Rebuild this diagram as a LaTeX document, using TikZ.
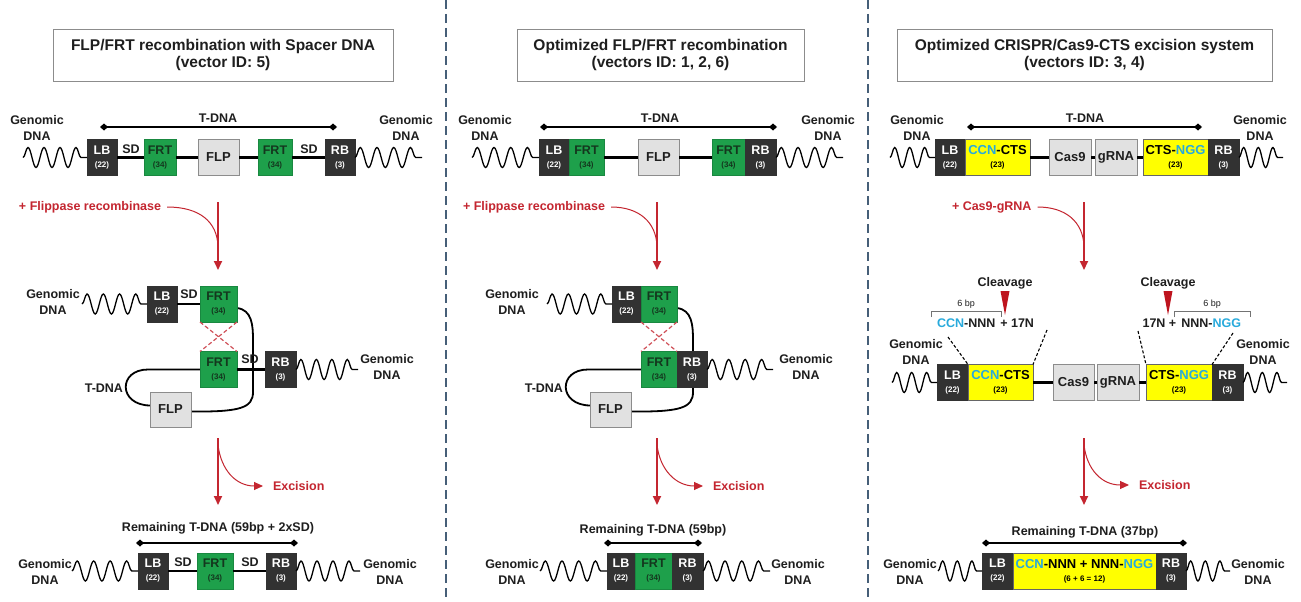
\documentclass[tikz,border=0pt]{standalone}
\usepackage{fontspec}
\setmainfont{Liberation Sans}
\usetikzlibrary{arrows.meta,decorations.pathmorphing,shapes.geometric}
\pgfdeclarelayer{bg}
\pgfdeclarelayer{back}
\pgfsetlayers{bg,back,main}
\definecolor{dkbox}{RGB}{50,50,50}
\definecolor{frtg}{RGB}{30,160,75}
\definecolor{frttext}{RGB}{20,55,30}
\definecolor{lgbox}{RGB}{225,225,225}
\definecolor{lgdraw}{RGB}{140,140,140}
\definecolor{redc}{RGB}{196,38,48}
\definecolor{cyanc}{RGB}{40,170,220}
\definecolor{yelc}{RGB}{255,255,0}
\definecolor{divc}{RGB}{70,95,120}
\definecolor{txt}{RGB}{30,30,30}
\newcommand\fs[2]{\fontsize{#1}{#2}\selectfont}
\newcommand\bl[2]{#1\\[-2.5pt]{\fs{8}{8}#2}}
\newcommand\cy[1]{\textcolor{cyanc}{#1}}
\begin{document}
\begin{tikzpicture}[x=1pt,y=-1pt,
 bsty/.style={inner sep=0pt, outer sep=0pt, font=\bfseries\fs{12.5}{15.5}, text=txt},
 lbl/.style={bsty, align=center},
 bxx/.style={bsty, draw, line width=0.6pt, minimum height=36pt, align=center},
 dk/.style={bxx, fill=dkbox, draw=dkbox, text=white},
 gr/.style={bxx, fill=frtg, draw=frtg!85!black, text=frttext},
 lg/.style={bxx, fill=lgbox, draw=lgdraw, text=txt, font=\bfseries\fs{13}{15.5}},
 yl/.style={bxx, fill=yelc, draw=black!60, text=black, font=\bfseries\fs{13}{15.5}},
 title/.style={bsty, draw=black!45, line width=0.8pt, align=center, font=\bfseries\fs{15.5}{16.5}},
 bb/.style={line width=2.4pt, black},
 wavy/.style={line width=1.3pt, decorate, decoration={snake, amplitude=10pt, segment length=#1}},
 bracket/.style={line width=1.1pt, {Diamond[length=8pt,width=7pt]}-{Diamond[length=8pt,width=7pt]}},
 redarr/.style={draw=redc, line width=1.8pt, -{Triangle[length=9pt,width=8pt]}},
 redcurve/.style={draw=redc, line width=1pt},
 redtxt/.style={bsty, text=redc},
 divider/.style={draw=divc, line width=2pt, dash pattern=on 9pt off 5pt},
 xdash/.style={draw=redc!80, line width=1.2pt, dash pattern=on 4pt off 2.5pt},
 loopln/.style={line width=1.8pt},
 dline/.style={line width=1.1pt, dash pattern=on 3pt off 2pt},
 smallbr/.style={draw=black!55, line width=0.9pt},
 tri/.style={fill={rgb,255:red,190;green,20;blue,30}},
]
\useasboundingbox (0,0) rectangle (1301,602);
\begin{pgfonlayer}{bg}\fill[white] (0,0) rectangle (1301,602);\end{pgfonlayer}
\draw[divider] (446,0) -- (446,602);
\draw[divider] (868,0) -- (868,602);

%%%%%%%% PANEL 1
\node[title, minimum width=340pt, minimum height=52pt] (aT) at (223,55) {FLP/FRT recombination with Spacer DNA\\(vector ID: 5)};
\node[lbl] (aG1) at (37,128) {Genomic\\DNA};
\node[lbl] (aG2) at (406,128) {Genomic\\DNA};
\node[dk, minimum width=30pt] (aLB) at (102,157.5) {\bl{LB}{(22)}};
\node[gr, minimum width=32pt] (aF1) at (160,157.5) {\bl{FRT}{(34)}};
\node[lg, minimum width=41pt] (aFLP) at (218.5,157.5) {FLP};
\node[gr, minimum width=34pt] (aF2) at (275,157.5) {\bl{FRT}{(34)}};
\node[dk, minimum width=30pt] (aRB) at (340,157.5) {\bl{RB}{(3)}};
\node[lbl] (aSD1) at (131,149) {SD};
\node[lbl] (aSD2) at (309,149) {SD};
\draw[bb] (aLB.east) -- (aF1.west) (aF1.east) -- (aFLP.west) (aFLP.east) -- (aF2.west) (aF2.east) -- (aRB.west);
\coordinate (aW1) at (23,157.5); \coordinate (aW2) at (422,157.5);
\draw[wavy=16pt] (aW1) -- (aLB.west);
\draw[wavy=16.75pt] (aRB.east) -- (aW2);
\coordinate (aB1) at (100,127); \coordinate (aB2) at (337,127);
\draw[bracket] (aB1) -- (aB2);
\node[lbl] (aTD) at (218,118) {T-DNA};

\node[redtxt, anchor=west] (aFl) at (19,207) {+ Flippase recombinase};
\coordinate (aA1) at (218,202); \coordinate (aA2) at (218,270);
\draw[redarr] (aA1) -- (aA2);
\draw[redcurve] ([xshift=6pt]aFl.east) .. controls (200,207) and (217,222) .. (218,246);

\node[lbl] (aG3) at (53,302) {Genomic\\DNA};
\node[dk, minimum width=30pt] (aLB2) at (162,304) {\bl{LB}{(22)}};
\node[gr, minimum width=37pt] (aF3) at (218.5,304) {\bl{FRT}{(34)}};
\node[gr, minimum width=37pt] (aF4) at (218.5,369.5) {\bl{FRT}{(34)}};
\node[dk, minimum width=31pt] (aRB2) at (280.5,369.5) {\bl{RB}{(3)}};
\node[lg, minimum width=41pt, minimum height=35pt] (aFLP2) at (170.5,409.5) {FLP};
\node[lbl] (aSD3) at (189,294) {SD};
\node[lbl] (aSD4) at (250,359) {SD};
\node[lbl, anchor=east] (aTD2) at (123,388) {T-DNA};
\node[lbl] (aG4) at (387,367) {Genomic\\DNA};
\draw[bb] (aLB2.east) -- (aF3.west) (aF4.east) -- (aRB2.west);
\coordinate (aW3) at (82,304); \coordinate (aW4) at (358,369.5);
\draw[wavy=16.25pt] (aW3) -- (aLB2.west);
\draw[wavy=15.5pt] (aRB2.east) -- (aW4);
\draw[xdash] (aF3.south west) -- (aF4.north east) (aF3.south east) -- (aF4.north west);
\begin{pgfonlayer}{back}
\draw[loopln] ([yshift=-4pt]aF3.east) .. controls (252,310) and (253,325) .. (253,340) -- (253,392) .. controls (253,408) and (240,412) .. ([yshift=-2pt]aFLP2.east);
\draw[loopln] (aF4.west) -- (148,369.5) .. controls (118,369.5) and (118,405) .. ([yshift=4pt]aFLP2.west);
\end{pgfonlayer}

\coordinate (aE1) at (218,438); \coordinate (aE2) at (218,505);
\draw[redarr] (aE1) -- (aE2);
\node[redtxt, anchor=west] (aEx) at (273,486) {Excision};
\draw[redcurve, -{Triangle[length=9pt,width=8pt]}] ([yshift=-7pt]aE1) .. controls (221,470) and (236,486) .. ([xshift=-10pt]aEx.west);

\node[lbl] (aR) at (218,528) {Remaining T-DNA (59bp + 2xSD)};
\coordinate (aB3) at (136,543); \coordinate (aB4) at (298,543);
\draw[bracket] (aB3) -- (aB4);
\node[dk, minimum width=30pt] (aLB3) at (153,571) {\bl{LB}{(22)}};
\node[gr, minimum width=36pt] (aF5) at (215,571) {\bl{FRT}{(34)}};
\node[dk, minimum width=30pt] (aRB3) at (281,571) {\bl{RB}{(3)}};
\node[lbl] (aSD5) at (183,562) {SD};
\node[lbl] (aSD6) at (250,562) {SD};
\draw[bb] (aLB3.east) -- (aF5.west) (aF5.east) -- (aRB3.west);
\coordinate (aW5) at (72,571); \coordinate (aW6) at (360,571);
\draw[wavy=16.5pt] (aW5) -- (aLB3.west);
\draw[wavy=16pt] (aRB3.east) -- (aW6);
\node[lbl] (aG5) at (45,572) {Genomic\\DNA};
\node[lbl] (aG6) at (390,572) {Genomic\\DNA};

%%%%%%%% PANEL 2
\node[title, minimum width=287pt, minimum height=52pt] (bT) at (660.5,55) {Optimized FLP/FRT recombination\\(vectors ID: 1, 2, 6)};
\node[lbl] (bG1) at (485,128) {Genomic\\DNA};
\node[lbl] (bG2) at (828,128) {Genomic\\DNA};
\node[dk, minimum width=30pt] (bLB) at (554,157.5) {\bl{LB}{(22)}};
\node[gr, minimum width=35pt] (bF1) at (586.5,157.5) {\bl{FRT}{(34)}};
\node[lg, minimum width=41pt] (bFLP) at (658.5,157.5) {FLP};
\node[gr, minimum width=33pt] (bF2) at (728.5,157.5) {\bl{FRT}{(34)}};
\node[dk, minimum width=31pt] (bRB) at (760.5,157.5) {\bl{RB}{(3)}};
\draw[bb] (bF1.east) -- (bFLP.west) (bFLP.east) -- (bF2.west);
\coordinate (bW1) at (472,157.5); \coordinate (bW2) at (843,157.5);
\draw[wavy=16.75pt] (bW1) -- (bLB.west);
\draw[wavy=16.75pt] (bRB.east) -- (bW2);
\coordinate (bB1) at (540,127); \coordinate (bB2) at (777,127);
\draw[bracket] (bB1) -- (bB2);
\node[lbl] (bTD) at (660,118) {T-DNA};

\node[redtxt, anchor=west] (bFl) at (463,207) {+ Flippase recombinase};
\coordinate (bA1) at (657,202); \coordinate (bA2) at (657,270);
\draw[redarr] (bA1) -- (bA2);
\draw[redcurve] ([xshift=6pt]bFl.east) .. controls (639,207) and (656,222) .. (657,246);

\node[lbl] (bG3) at (512,302) {Genomic\\DNA};
\node[dk, minimum width=29pt] (bLB2) at (626.5,304) {\bl{LB}{(22)}};
\node[gr, minimum width=36pt] (bF3) at (659,304) {\bl{FRT}{(34)}};
\node[gr, minimum width=36pt] (bF4) at (659,369.5) {\bl{FRT}{(34)}};
\node[dk, minimum width=30pt] (bRB2) at (692,369.5) {\bl{RB}{(3)}};
\node[lg, minimum width=41pt, minimum height=35pt] (bFLP2) at (610.5,409.5) {FLP};
\node[lbl, anchor=east] (bTD2) at (563,388) {T-DNA};
\node[lbl] (bG4) at (806,367) {Genomic\\DNA};
\coordinate (bW3) at (547,304); \coordinate (bW4) at (773,369.5);
\draw[wavy=16.25pt] (bW3) -- (bLB2.west);
\draw[wavy=16.5pt] (bRB2.east) -- (bW4);
\draw[xdash] (bF3.south west) -- (bF4.north east) (bF3.south east) -- (bF4.north west);
\begin{pgfonlayer}{back}
\draw[loopln] ([yshift=-4pt]bF3.east) .. controls (692,310) and (693,325) .. (693,340) -- (693,392) .. controls (693,408) and (680,412) .. ([yshift=-2pt]bFLP2.east);
\draw[loopln] (bF4.west) -- (588,369.5) .. controls (558,369.5) and (558,405) .. ([yshift=4pt]bFLP2.west);
\end{pgfonlayer}

\coordinate (bE1) at (657,438); \coordinate (bE2) at (657,505);
\draw[redarr] (bE1) -- (bE2);
\node[redtxt, anchor=west] (bEx) at (713,486) {Excision};
\draw[redcurve, -{Triangle[length=9pt,width=8pt]}] ([yshift=-7pt]bE1) .. controls (660,470) and (676,486) .. ([xshift=-10pt]bEx.west);

\node[lbl] (bR) at (653,530) {Remaining T-DNA (59bp)};
\coordinate (bB3) at (604,543); \coordinate (bB4) at (702,543);
\draw[bracket] (bB3) -- (bB4);
\node[dk, minimum width=28pt] (bLB3) at (621,571) {\bl{LB}{(22)}};
\node[gr, minimum width=37pt] (bF5) at (653.5,571) {\bl{FRT}{(34)}};
\node[dk, minimum width=31pt] (bRB3) at (687.5,571) {\bl{RB}{(3)}};
\coordinate (bW5) at (540,571); \coordinate (bW6) at (770,571);
\draw[wavy=16.75pt] (bW5) -- (bLB3.west);
\draw[wavy=16.75pt] (bRB3.east) -- (bW6);
\node[lbl] (bG5) at (512,572) {Genomic\\DNA};
\node[lbl] (bG6) at (798,572) {Genomic\\DNA};

%%%%%%%% PANEL 3
\node[title, minimum width=375pt, minimum height=52pt] (cT) at (1084.5,55) {Optimized CRISPR/Cas9-CTS excision system\\(vectors ID: 3, 4)};
\node[lbl] (cG1) at (917,128) {Genomic\\DNA};
\node[lbl] (cG2) at (1260,128) {Genomic\\DNA};
\node[dk, minimum width=30pt] (cLB) at (950,157.5) {\bl{LB}{(22)}};
\node[yl, minimum width=65pt] (cY1) at (997.5,157.5) {\bl{\cy{CCN}-CTS}{(23)}};
\node[lg, minimum width=42pt] (cC1) at (1070,157.5) {Cas9};
\node[lg, minimum width=42pt] (cR1) at (1116,157.5) {gRNA};
\node[yl, minimum width=65pt] (cN1) at (1175.5,157.5) {\bl{CTS-\cy{NGG}}{(23)}};
\node[dk, minimum width=31pt] (cRB) at (1223.5,157.5) {\bl{RB}{(3)}};
\draw[bb] (cY1.east) -- (cC1.west) (cC1.east) -- (cR1.west) (cR1.east) -- (cN1.west);
\coordinate (cW1) at (890,157.5); \coordinate (cW2) at (1283,157.5);
\draw[wavy=15pt] (cW1) -- (cLB.west);
\draw[wavy=14.67pt] (cRB.east) -- (cW2);
\coordinate (cB1) at (967,127); \coordinate (cB2) at (1202,127);
\draw[bracket] (cB1) -- (cB2);
\node[lbl] (cTD) at (1085,118) {T-DNA};

\node[redtxt, anchor=west] (cCg) at (952,207) {+ Cas9-gRNA};
\coordinate (cA1) at (1084,202); \coordinate (cA2) at (1084,270);
\draw[redarr] (cA1) -- (cA2);
\draw[redcurve] ([xshift=6pt]cCg.east) .. controls (1066,207) and (1083,222) .. (1084,246);

\node[lbl] (cCl1) at (1005,283) {Cleavage};
\node[lbl] (cCl2) at (1168,283) {Cleavage};
\fill[tri] (1000.5,291) -- (1009.5,291) -- (1005,315) -- cycle;
\fill[tri] (1163.5,291) -- (1172.5,291) -- (1168,315) -- cycle;
\draw[smallbr] (931,317) -- (931,311) -- (1001,311) -- (1001,317);
\draw[smallbr] (1174,317) -- (1174,311) -- (1250,311) -- (1250,317);
\node[bsty, font=\fs{9}{10}] (c6a) at (966,304) {6 bp};
\node[bsty, font=\fs{9}{10}] (c6b) at (1212,304) {6 bp};
\node[bsty, anchor=west] (cS1) at (937,323) {\cy{CCN}-NNN\hspace{5pt}+ 17N};
\node[bsty, anchor=east] (cS2) at (1241,323) {17N +\hspace{5pt}NNN-\cy{NGG}};

\node[lbl] (cG3) at (916,352) {Genomic\\DNA};
\node[lbl] (cG4) at (1263,352) {Genomic\\DNA};
\node[dk, minimum width=31pt] (cLB2) at (952.5,382.5) {\bl{LB}{(22)}};
\node[yl, minimum width=65pt] (cY2) at (1000.5,382.5) {\bl{\cy{CCN}-CTS}{(23)}};
\node[lg, minimum width=41pt] (cC2) at (1073.5,382.5) {Cas9};
\node[lg, minimum width=42pt] (cR2) at (1118,382.5) {gRNA};
\node[yl, minimum width=66pt] (cN2) at (1179,382.5) {\bl{CTS-\cy{NGG}}{(23)}};
\node[dk, minimum width=31pt] (cRB2) at (1227.5,382.5) {\bl{RB}{(3)}};
\draw[bb] (cY2.east) -- (cC2.west) (cC2.east) -- (cR2.west) (cR2.east) -- (cN2.west);
\coordinate (cW3) at (892,382.5); \coordinate (cW4) at (1287,382.5);
\draw[wavy=15pt] (cW3) -- (cLB2.west);
\draw[wavy=14.67pt] (cRB2.east) -- (cW4);
\coordinate (cD1) at (948,337); \coordinate (cD2) at (1047,330);
\coordinate (cD3) at (1138,331); \coordinate (cD4) at (1233,333);
\draw[dline] (cD1) -- (cLB2.north east);
\draw[dline] (cD2) -- (cY2.north east);
\draw[dline] (cD3) -- (cN2.north west);
\draw[dline] (cD4) -- (cN2.north east);

\coordinate (cE1) at (1084,438); \coordinate (cE2) at (1084,505);
\draw[redarr] (cE1) -- (cE2);
\node[redtxt, anchor=west] (cEx) at (1139,485) {Excision};
\draw[redcurve, -{Triangle[length=9pt,width=8pt]}] ([yshift=-7pt]cE1) .. controls (1087,470) and (1102,485) .. ([xshift=-10pt]cEx.west);

\node[lbl] (cR) at (1085,532) {Remaining T-DNA (37bp)};
\coordinate (cB3) at (982,543); \coordinate (cB4) at (1187,543);
\draw[bracket] (cB3) -- (cB4);
\node[dk, minimum width=31pt] (cLB3) at (997.5,571) {\bl{LB}{(22)}};
\node[yl, minimum width=143pt] (cY3) at (1084.5,571) {\bl{\cy{CCN}-NNN + NNN-\cy{NGG}}{(6 + 6 = 12)}};
\node[dk, minimum width=30pt] (cRB3) at (1171,571) {\bl{RB}{(3)}};
\coordinate (cW5) at (938,571); \coordinate (cW6) at (1230,571);
\draw[wavy=14.67pt] (cW5) -- (cLB3.west);
\draw[wavy=14.67pt] (cRB3.east) -- (cW6);
\node[lbl] (cG5) at (910,572) {Genomic\\DNA};
\node[lbl] (cG6) at (1258,572) {Genomic\\DNA};
\end{tikzpicture}
\end{document}
